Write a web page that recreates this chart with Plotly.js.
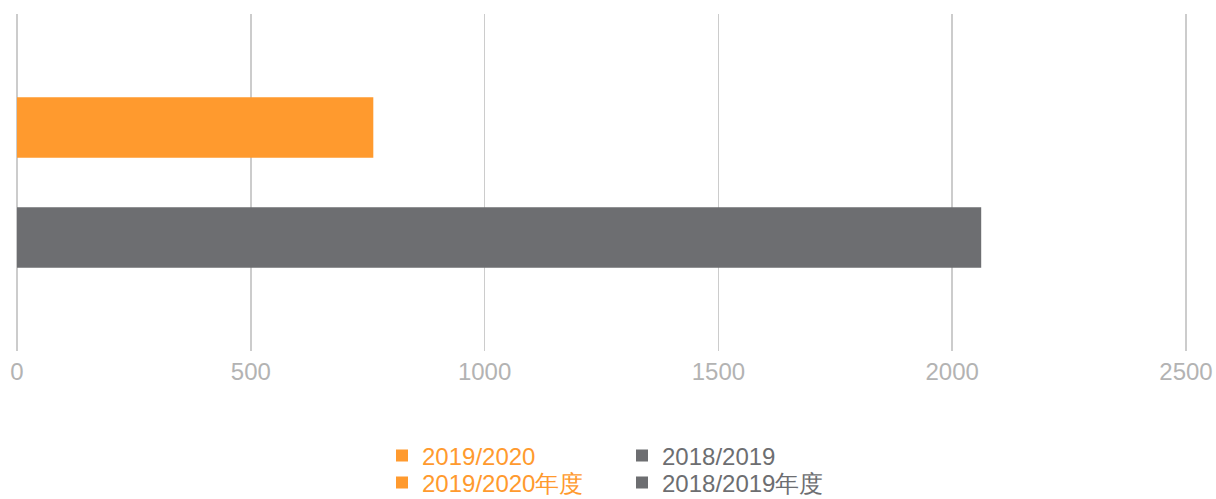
<!DOCTYPE html>
<html>
<head>
<meta charset="utf-8">
<script src="https://cdn.plot.ly/plotly-3.0.1.min.js"></script>
<style>html,body{margin:0;padding:0;background:#fff;}#chart{width:1216px;height:499px;}</style>
</head>
<body>
<div id="chart"></div>
<script>
const category = ['value'];
const seriesNames = ['2019/2020', '2018/2019'];
const legendSuffixNames = ['2019/2020年度', '2018/2019年度'];
const values2019_2020 = [762];
const values2018_2019 = [2062];
const emptyValues = [0];
const xTicks = [0, 500, 1000, 1500, 2000, 2500];

const orange = '#FF9A2E';
const gray = '#6D6E71';
const font = '"Liberation Sans", Arial, sans-serif';

const traces = [
  {type: 'bar', orientation: 'h', name: seriesNames[1], x: values2018_2019, y: category,
   marker: {color: gray}, legend: 'legend2', hoverinfo: 'x+name'},
  {type: 'bar', orientation: 'h', name: seriesNames[0], x: values2019_2020, y: category,
   marker: {color: orange}, legend: 'legend', hoverinfo: 'x+name'},
  {type: 'bar', orientation: 'h', name: legendSuffixNames[0], x: emptyValues, y: category,
   marker: {color: orange, line: {width: 0}}, legend: 'legend3', yaxis: 'y2', xaxis: 'x'},
  {type: 'bar', orientation: 'h', name: legendSuffixNames[1], x: emptyValues, y: category,
   marker: {color: gray, line: {width: 0}}, legend: 'legend4', yaxis: 'y2', xaxis: 'x'}
];

function legendBox(px, py, color) {
  return {
    orientation: 'v', x: (px - 14) / 1175, xanchor: 'left',
    y: -(py - 351) / 337, yanchor: 'middle',
    font: {family: font, size: 24, color: color}, bgcolor: 'rgba(0,0,0,0)',
    borderwidth: 0, tracegroupgap: 0
  };
}

const layout = {
  width: 1216, height: 499,
  margin: {l: 14, r: 27, t: 14, b: 148, autoexpand: false},
  paper_bgcolor: '#fff', plot_bgcolor: '#fff',
  font: {family: font, size: 24, color: '#b3b3b3'},
  barmode: 'group',
  bargap: 0.347,
  bargroupgap: 0.45,
  showlegend: true,
  xaxis: {
    range: [-6.4, 2506.4], tickvals: xTicks, ticktext: xTicks.map(String),
    showgrid: true, gridcolor: '#cccccc', gridwidth: 1.5,
    zeroline: false, showline: false, ticks: '', ticklabelstandoff: 4,
    tickfont: {family: font, size: 24, color: '#b3b3b3'},
    fixedrange: true
  },
  yaxis: {range: [-0.5, 0.5], visible: false, fixedrange: true},
  yaxis2: {overlaying: 'y', visible: false, range: [-0.5, 0.5], fixedrange: true},
  legend: legendBox(382, 456, orange),
  legend2: legendBox(622, 456, gray),
  legend3: legendBox(382, 483, orange),
  legend4: legendBox(622, 483, gray)
};

Plotly.newPlot('chart', traces, layout, {displayModeBar: false, staticPlot: true});
</script>
</body>
</html>
